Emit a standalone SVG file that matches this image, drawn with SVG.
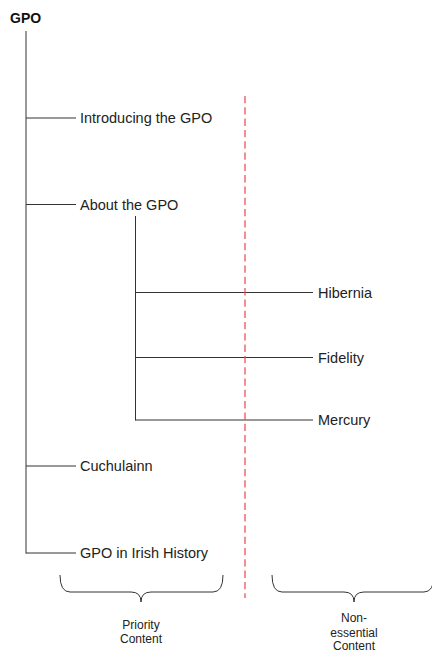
<svg xmlns="http://www.w3.org/2000/svg" width="432" height="652" viewBox="0 0 432 652">
<style>
.ln{stroke:#333;stroke-width:1;fill:none}
.lbl{font-family:"Liberation Sans",Arial,sans-serif;font-size:14.5px;fill:#222}
.sm{font-family:"Liberation Sans",Arial,sans-serif;font-size:12px;fill:#222;text-anchor:middle}
</style>
<rect width="432" height="652" fill="#fff"/>
<g id="connectors">
<line class="ln" x1="26" y1="31" x2="26" y2="553.5"/>
<line class="ln" x1="26" y1="118" x2="76" y2="118"/>
<line class="ln" x1="26" y1="204.5" x2="76" y2="204.5"/>
<line class="ln" x1="26" y1="466" x2="76" y2="466"/>
<line class="ln" x1="26" y1="553" x2="76" y2="553"/>
<line class="ln" x1="135.5" y1="216" x2="135.5" y2="420.5"/>
<line class="ln" x1="135.5" y1="292.5" x2="313" y2="292.5"/>
<line class="ln" x1="135.5" y1="357.5" x2="313" y2="357.5"/>
<line class="ln" x1="135.5" y1="420" x2="313" y2="420"/>
</g>
<g id="divider">
<line x1="245" y1="96" x2="245" y2="598" stroke="#f0505a" stroke-width="1.3" stroke-dasharray="7.3,4"/>
</g>
<g id="gpo"><text x="10" y="23" style="font-family:'Liberation Sans',Arial,sans-serif;font-size:14px;font-weight:bold;fill:#111">GPO</text></g>
<g id="introducing"><text class="lbl" x="80" y="123">Introducing the GPO</text></g>
<g id="about"><text class="lbl" x="80" y="209.5">About the GPO</text></g>
<g id="hibernia"><text class="lbl" x="318" y="297.5">Hibernia</text></g>
<g id="fidelity"><text class="lbl" x="318" y="362.5">Fidelity</text></g>
<g id="mercury"><text class="lbl" x="318" y="425">Mercury</text></g>
<g id="cuchulainn"><text class="lbl" x="80" y="471">Cuchulainn</text></g>
<g id="history"><text class="lbl" x="80" y="558">GPO in Irish History</text></g>
<g id="priority">
<path class="ln" d="M60,575 Q60,592 70,592 L131,592 Q141,592 141,602 Q141,592 151,592 L213,592 Q223,592 223,575"/>
<text class="sm" x="141" y="629">Priority</text>
<text class="sm" x="141" y="643">Content</text>
</g>
<g id="nonessential">
<path class="ln" d="M272,575 Q272,592 282,592 L344,592 Q354,592 354,602 Q354,592 364,592 L424,592 Q434,592 434,575"/>
<text class="sm" x="354" y="622">Non-</text>
<text class="sm" x="354" y="636.5">essential</text>
<text class="sm" x="354" y="650">Content</text>
</g>
</svg>
